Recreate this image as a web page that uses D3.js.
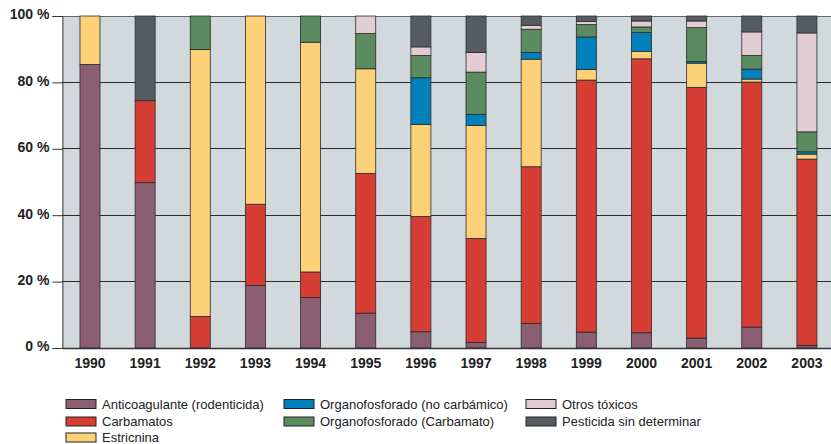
<!DOCTYPE html>
<html><head><meta charset="utf-8">
<script src="https://cdn.jsdelivr.net/npm/d3@7"></script>
<style>body{margin:0;background:#fff;}svg{display:block;}</style>
</head><body><svg id="c" width="831" height="444"></svg>
<script>
const years = ["1990","1991","1992","1993","1994","1995","1996","1997","1998","1999","2000","2001","2002","2003"];
const seriesNames = ["Anticoagulante (rodenticida)","Carbamatos","Estricnina","Organofosforado (no carbámico)","Organofosforado (Carbamato)","Otros tóxicos","Pesticida sin determinar"];
const colors = ["#8b5f71","#d63d35","#fcd177","#0181bb","#5b8c5f","#e2cdd4","#575c63"];
const anticoagulante = [85.4,49.8,0,18.8,15.2,10.5,4.9,1.7,7.4,4.8,4.6,3.0,6.3,0.8];
const carbamatos     = [0,24.7,9.5,24.5,7.7,42.1,34.7,31.3,47.2,75.9,82.5,75.5,73.8,56.1];
const estricnina     = [14.6,0,80.4,56.7,69.2,31.5,27.7,34.0,32.4,3.2,2.2,7.3,0.9,1.5];
const orgNoCarb      = [0,0,0,0,0,0,14.1,3.4,2.0,9.8,5.7,0.5,3.0,0.7];
const orgCarb        = [0,0,10.1,0,7.9,10.6,6.7,12.7,7.0,3.7,1.7,10.2,4.1,6.0];
const otros          = [0,0,0,0,0,5.3,2.6,5.9,1.2,1.0,1.8,2.0,7.1,29.8];
const pesticida      = [0,25.5,0,0,0,0,9.3,11.0,2.8,1.6,1.5,1.5,4.8,5.1];
const yTicks = [0,20,40,60,80,100];

const seriesVals = [anticoagulante,carbamatos,estricnina,orgNoCarb,orgCarb,otros,pesticida];
const keys = seriesNames;
const table = years.map((yr,i)=>{const o={year:yr}; keys.forEach((k,j)=>o[k]=seriesVals[j][i]); return o;});
const stacked = d3.stack().keys(keys)(table);

const svg = d3.select("#c");
const mLeft=62.4, mRight=834.5, mTop=16, mBottom=348;
const x = d3.scaleBand().domain(years).range([mLeft,mRight]).paddingInner(0.637).paddingOuter(0.3185);
const y = d3.scaleLinear().domain([0,100]).range([mBottom,mTop]);

svg.append("rect").attr("x",mLeft).attr("y",mTop).attr("width",mRight-mLeft).attr("height",mBottom-mTop).attr("fill","#d2d9dd");

// gridlines
svg.append("g").selectAll("line").data(yTicks.filter(t=>t>0&&t<100)).join("line")
  .attr("x1",mLeft).attr("x2",mRight).attr("y1",d=>y(d)).attr("y2",d=>y(d))
  .attr("stroke","#2b2b2b").attr("stroke-width",1).attr("shape-rendering","crispEdges");
svg.append("line").attr("x1",mLeft).attr("x2",mRight).attr("y1",mTop).attr("y2",mTop).attr("stroke","#666").attr("shape-rendering","crispEdges");

// bars
svg.append("g").selectAll("g").data(stacked).join("g")
  .attr("fill",(d,i)=>colors[i])
  .selectAll("rect").data(d=>d.filter(s=>s[1]-s[0]>0)).join("rect")
  .attr("x",d=>x(d.data.year)).attr("width",x.bandwidth())
  .attr("y",d=>y(d[1])).attr("height",d=>y(d[0])-y(d[1]))
  .attr("stroke","#2a2a2a").attr("stroke-width",0.8);

// axes
const yAxis = d3.axisLeft(y).tickValues(yTicks).tickSize(10).tickFormat(d=>d+" %");
const gy = svg.append("g").attr("transform",`translate(${mLeft},0)`).call(yAxis);
gy.select(".domain").attr("stroke","#333");
gy.selectAll(".tick line").attr("stroke","#333");
gy.selectAll("text").attr("x",-13).attr("dy","0.2em").attr("font-family","Liberation Sans, Arial, sans-serif")
  .attr("font-weight","bold").attr("font-size",14).attr("fill","#222");

const xAxis = d3.axisBottom(x).tickSize(0).tickPadding(10);
const gx = svg.append("g").attr("transform",`translate(0,${mBottom})`).call(xAxis);
gx.select(".domain").attr("stroke","#333").attr("stroke-width",1.5);
gx.selectAll("text").attr("font-family","Liberation Sans, Arial, sans-serif").attr("font-weight","bold").attr("font-size",14).attr("fill","#222");

// legend
const legPos = [[66,404],[66,421.5],[66,437.5],[284,404],[284,421.5],[526,404],[526,421.5]];
const lg = svg.append("g").selectAll("g").data(keys).join("g")
  .attr("transform",(d,i)=>`translate(${legPos[i][0]},${legPos[i][1]})`);
lg.append("rect").attr("x",0).attr("y",-4.5).attr("width",30).attr("height",9).attr("fill",(d,i)=>colors[i]).attr("stroke","#222").attr("stroke-width",1);
lg.append("text").attr("x",36).attr("dy","0.35em").text(d=>d)
  .attr("font-family","Liberation Sans, Arial, sans-serif").attr("font-size",13).attr("fill","#222");
</script></body></html>
